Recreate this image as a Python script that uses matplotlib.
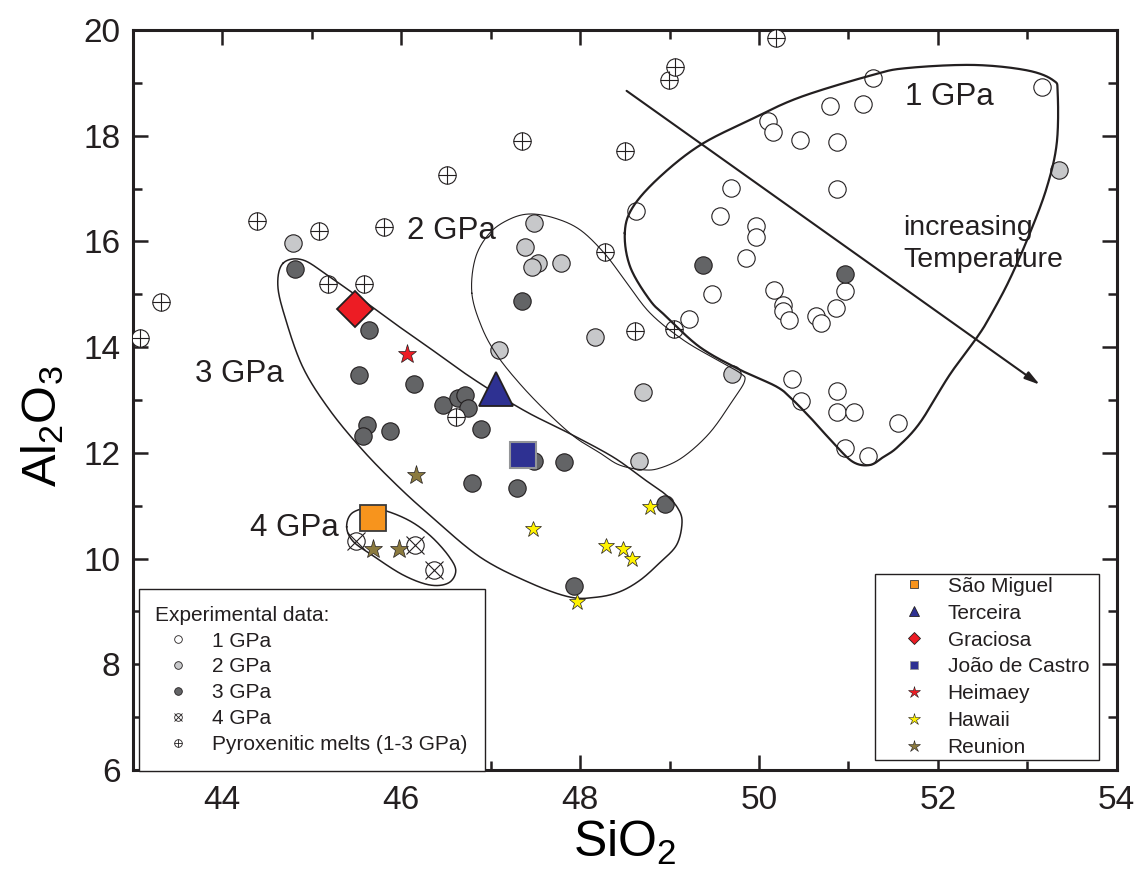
import numpy as np
import matplotlib
matplotlib.use("Agg")
import matplotlib.pyplot as plt
from matplotlib import font_manager
from matplotlib.lines import Line2D
from matplotlib.patches import Rectangle

# --- DATA (wt%) ---
# experimental melts, 1 GPa
gpa1_sio2 = [51.27, 50.79, 51.16, 53.16, 50.10, 50.16, 50.46, 50.87, 50.87, 49.69, 48.62,
             49.57, 49.97, 49.97, 49.86, 49.48, 49.22, 50.17, 50.27, 50.27, 50.34, 50.64,
             50.69, 50.86, 50.96, 50.37, 50.47, 50.87, 50.87, 51.06, 51.55, 50.96, 51.22]
gpa1_al2o3 = [19.09, 18.56, 18.60, 18.92, 18.28, 18.07, 17.92, 17.88, 16.99, 17.01, 16.58,
              16.48, 16.29, 16.08, 15.69, 15.01, 14.53, 15.08, 14.80, 14.68, 14.51, 14.59,
              14.46, 14.74, 15.06, 13.40, 12.98, 13.17, 12.77, 12.77, 12.57, 12.09, 11.94]
# 2 GPa
gpa2_sio2 = [44.79, 47.48, 47.38, 47.53, 47.46, 47.79, 47.09, 48.17, 48.70, 48.66, 49.70, 53.35]
gpa2_al2o3 = [15.97, 16.35, 15.89, 15.59, 15.52, 15.59, 13.95, 14.19, 13.15, 11.85, 13.49, 17.35]
# 3 GPa
gpa3_sio2 = [44.81, 45.64, 45.53, 46.14, 45.62, 45.57, 45.87, 46.47, 46.63, 46.71, 46.75,
             46.89, 46.79, 47.29, 47.48, 47.82, 47.35, 48.95, 47.93, 49.37, 50.96]
gpa3_al2o3 = [15.48, 14.32, 13.47, 13.30, 12.53, 12.32, 12.41, 12.91, 13.04, 13.09, 12.85,
              12.45, 11.43, 11.34, 11.85, 11.83, 14.87, 11.03, 9.48, 15.55, 15.38]
# 4 GPa
gpa4_sio2 = [45.50, 46.15, 46.37]
gpa4_al2o3 = [10.33, 10.26, 9.78]
# pyroxenitic melts (1-3 GPa)
pyx_sio2 = [43.08, 43.31, 44.39, 45.08, 45.18, 45.58, 45.81, 46.51, 47.35, 48.50, 48.28,
            48.61, 49.05, 48.99, 49.06, 50.19, 46.61]
pyx_al2o3 = [14.17, 14.85, 16.39, 16.20, 15.19, 15.19, 16.27, 17.26, 17.90, 17.71, 15.80,
             14.31, 14.34, 19.05, 19.30, 19.85, 12.68]

# natural samples
sao_miguel = (45.68, 10.77)
terceira = (47.06, 13.21)
graciosa = (45.48, 14.72)
joao_de_castro = (47.36, 11.96)
heimaey = (46.06, 13.87)
hawaii_sio2 = [47.47, 48.29, 48.48, 48.58, 48.78, 47.97]
hawaii_al2o3 = [10.56, 10.24, 10.18, 9.99, 10.98, 9.18]
reunion_sio2 = [46.17, 45.68, 45.97]
reunion_al2o3 = [11.58, 10.18, 10.18]

# pressure fields (outline vertices)
field1_sio2 = [48.50, 48.59, 48.89, 49.34, 49.90, 50.46, 51.27, 51.65, 52.39, 52.99, 53.29,
               53.34, 53.33, 53.22, 53.03, 52.80, 52.58, 52.44, 52.13, 51.80, 51.55, 51.39,
               51.24, 51.05, 50.83, 50.60, 50.38, 50.20, 49.79, 49.34, 48.97, 48.78, 48.56]
field1_al2o3 = [16.16, 16.65, 17.22, 17.82, 18.30, 18.73, 19.15, 19.28, 19.34, 19.24, 19.05,
                18.81, 17.86, 17.03, 16.16, 15.27, 14.57, 14.19, 13.47, 12.57, 12.11, 11.92,
                11.77, 11.83, 12.19, 12.62, 13.00, 13.25, 13.57, 14.00, 14.57, 14.89, 15.52]
field2_sio2 = [46.79, 46.83, 46.99, 47.21, 47.44, 47.72, 48.00, 48.27, 48.50, 48.78, 49.15,
               49.53, 49.79, 49.84, 49.71, 49.45, 49.15, 48.89, 48.70, 48.44, 48.22, 47.94,
               47.63, 47.33, 47.07, 46.90]
field2_al2o3 = [15.02, 15.69, 16.16, 16.42, 16.52, 16.44, 16.22, 15.78, 15.27, 14.65, 14.14,
                13.76, 13.51, 13.36, 13.00, 12.38, 11.92, 11.71, 11.68, 11.77, 12.00, 12.30,
                12.77, 13.30, 13.85, 14.38]
field3_sio2 = [44.68, 44.90, 45.20, 45.57, 45.95, 46.32, 46.69, 47.07, 47.44, 47.89, 48.37,
               48.70, 48.95, 49.09, 49.14, 49.08, 48.89, 48.67, 48.44, 48.19, 47.89, 47.44,
               46.88, 46.32, 45.95, 45.57, 45.20, 44.90, 44.70, 44.62]
field3_al2o3 = [15.59, 15.65, 15.33, 14.89, 14.42, 13.98, 13.53, 13.11, 12.74, 12.36, 11.92,
                11.52, 11.22, 10.96, 10.69, 10.26, 9.92, 9.59, 9.37, 9.27, 9.27, 9.54,
                10.03, 10.82, 11.39, 12.05, 12.81, 13.62, 14.57, 15.18]
field4_sio2 = [45.39, 45.45, 45.65, 45.87, 46.12, 46.34, 46.53, 46.61, 46.53, 46.32, 46.02,
               45.67, 45.46]
field4_al2o3 = [10.60, 10.86, 10.96, 10.88, 10.69, 10.41, 10.05, 9.77, 9.54, 9.50, 9.69,
                10.07, 10.33]

# temperature arrow (start, end)
arrow_start = (48.52, 18.85)
arrow_end = (53.14, 13.29)

INK = '#231f20'
C_2GPA = '#c7c8ca'
C_3GPA = '#636466'

# --- FONTS ---
names = {f.name for f in font_manager.fontManager.ttflist}
label_font = 'Liberation Sans Narrow' if 'Liberation Sans Narrow' in names else 'Liberation Sans'
plt.rcParams['font.family'] = ['Liberation Sans', 'DejaVu Sans']
plt.rcParams['mathtext.fontset'] = 'custom'
plt.rcParams['mathtext.rm'] = label_font
plt.rcParams['mathtext.it'] = label_font
plt.rcParams['text.color'] = INK


def closed_curve(xs, ys, n=30):
    """Smooth closed outline (periodic Catmull-Rom) through the given vertices."""
    p = np.column_stack([xs, ys])
    m = len(p)
    t = np.linspace(0, 1, n, endpoint=False)[:, None]
    segs = []
    for i in range(m):
        p0, p1, p2, p3 = p[i - 1], p[i], p[(i + 1) % m], p[(i + 2) % m]
        segs.append(0.5 * (2 * p1 + (-p0 + p2) * t + (2 * p0 - 5 * p1 + 4 * p2 - p3) * t ** 2
                           + (-p0 + 3 * p1 - 3 * p2 + p3) * t ** 3))
    segs.append(segs[0][:1])
    out = np.vstack(segs)
    return out[:, 0], out[:, 1]


# --- PLOT ---
fig = plt.figure(figsize=(11.36, 8.84), dpi=100)
ax = fig.add_axes([0.117, 0.129, 0.866, 0.837])

circ = dict(ls='none', marker='o', ms=12.5, mew=0.8, mec=INK)
ax.plot(gpa1_sio2, gpa1_al2o3, mfc='white', zorder=3, **circ)
ax.plot(gpa2_sio2, gpa2_al2o3, mfc=C_2GPA, zorder=3, **circ)
ax.plot(gpa3_sio2, gpa3_al2o3, mfc=C_3GPA, zorder=3, **circ)
ax.plot(gpa4_sio2, gpa4_al2o3, mfc='white', zorder=3, **circ)
ax.plot(gpa4_sio2, gpa4_al2o3, ls='none', marker='x', ms=12.5, mew=0.8, mec=INK, zorder=3)
ax.plot(pyx_sio2, pyx_al2o3, mfc='white', zorder=3, **circ)
ax.plot(pyx_sio2, pyx_al2o3, ls='none', marker='+', ms=12.5, mew=0.8, mec=INK, zorder=3)

# pressure fields
for fx, fy, lw in [(field1_sio2, field1_al2o3, 1.6), (field2_sio2, field2_al2o3, 0.8),
                   (field3_sio2, field3_al2o3, 1.1), (field4_sio2, field4_al2o3, 1.1)]:
    cx, cy = closed_curve(fx, fy)
    ax.plot(cx, cy, color=INK, lw=lw, zorder=4)

# natural samples
ax.plot(*sao_miguel, ls='none', marker='s', ms=18.5, mfc='#f7941d', mec='#3a3a3a', mew=1.3, zorder=5)
ax.plot(*terceira, ls='none', marker='^', ms=24, mfc='#2e3192', mec=INK, mew=1.3, zorder=5)
ax.plot(*graciosa, ls='none', marker='D', ms=18.5, mfc='#ed1c24', mec=INK, mew=1.3, zorder=5)
ax.plot(*joao_de_castro, ls='none', marker='s', ms=18.5, mfc='#2e3192', mec='#939598', mew=1.5, zorder=5)
ax.plot(*heimaey, ls='none', marker='*', ms=14, mfc='#ed1c24', mec=INK, mew=0.5, zorder=5)
ax.plot(hawaii_sio2, hawaii_al2o3, ls='none', marker='*', ms=12, mfc='#fff200', mec=INK, mew=0.5, zorder=5)
ax.plot(reunion_sio2, reunion_al2o3, ls='none', marker='*', ms=14, mfc='#8b7a3e', mec=INK, mew=0.5, zorder=5)

# increasing temperature arrow
ax.annotate('', xy=arrow_end, xytext=arrow_start,
            arrowprops=dict(arrowstyle='-|>,head_length=0.9,head_width=0.25', lw=1.5,
                            color=INK, shrinkA=0, shrinkB=0), zorder=4)

# field labels
lab = dict(fontsize=22.5, va='baseline', ha='left')
ax.text(51.63, 18.58, '1 GPa', **lab)
ax.text(46.06, 16.05, '2 GPa', **lab)
ax.text(43.69, 13.34, '3 GPa', **lab)
ax.text(44.31, 10.43, '4 GPa', **lab)
ax.text(51.61, 16.12, 'increasing', fontsize=20.5, va='baseline', ha='left')
ax.text(51.61, 15.52, 'Temperature', fontsize=20.5, va='baseline', ha='left')

# axes
ax.set_xlim(43, 54)
ax.set_ylim(6, 20)
ax.set_xticks(np.arange(44, 55, 2))
ax.set_xticks(np.arange(43, 55, 1), minor=True)
ax.set_yticks(np.arange(6, 21, 2))
ax.set_yticks(np.arange(6, 21, 1), minor=True)
ax.tick_params(which='both', direction='in', top=True, right=True, width=1.8, color=INK,
               labelsize=24, labelcolor=INK)
ax.tick_params(which='major', length=11)
ax.tick_params(which='minor', length=6.5)
ax.tick_params(axis='x', pad=11)
ax.tick_params(axis='y', pad=9)
for s in ax.spines.values():
    s.set_linewidth(2.2)
    s.set_color(INK)

ax.set_xlabel(r'$\mathrm{SiO_2}$', fontsize=36)
ax.set_ylabel(r'$\mathrm{Al_2O_3}$', fontsize=35)
ax.xaxis.set_label_coords(0.5, -0.066)
ax.yaxis.set_label_coords(-0.068, 0.465)

# legends
exp_handles = [
    Line2D([], [], ls='none', marker='o', ms=5.5, mfc='white', mec=INK, mew=0.6),
    Line2D([], [], ls='none', marker='o', ms=5.5, mfc=C_2GPA, mec=INK, mew=0.6),
    Line2D([], [], ls='none', marker='o', ms=5.5, mfc=C_3GPA, mec=INK, mew=0.6),
    (Line2D([], [], ls='none', marker='o', ms=5.5, mfc='white', mec=INK, mew=0.6),
     Line2D([], [], ls='none', marker='x', ms=5.5, mec=INK, mew=0.6)),
    (Line2D([], [], ls='none', marker='o', ms=5.5, mfc='white', mec=INK, mew=0.6),
     Line2D([], [], ls='none', marker='+', ms=5.5, mec=INK, mew=0.6)),
]
exp_labels = ['1 GPa', '2 GPa', '3 GPa', '4 GPa', 'Pyroxenitic melts (1-3 GPa)']
leg_kw = dict(fontsize=15, fancybox=False, edgecolor=INK, framealpha=1, borderpad=0.8,
              handlelength=2.2, handletextpad=0.5, borderaxespad=0)
leg1 = ax.legend(exp_handles, exp_labels, title='Experimental data:', title_fontsize=15,
                 alignment='left', loc='lower left', mode='expand', labelspacing=0.33,
                 bbox_to_anchor=(0.006, -0.001, 0.352, 0.245), **leg_kw)
leg1.get_frame().set_linewidth(1.0)
ax.add_artist(leg1)

site_handles = [
    Line2D([], [], ls='none', marker='s', ms=6, mfc='#f7941d', mec='#3a3a3a', mew=0.6),
    Line2D([], [], ls='none', marker='^', ms=7.5, mfc='#2e3192', mec=INK, mew=0.6),
    Line2D([], [], ls='none', marker='D', ms=6.5, mfc='#ed1c24', mec=INK, mew=0.6),
    Line2D([], [], ls='none', marker='s', ms=6, mfc='#2e3192', mec='#939598', mew=0.6),
    Line2D([], [], ls='none', marker='*', ms=9, mfc='#ed1c24', mec=INK, mew=0.4),
    Line2D([], [], ls='none', marker='*', ms=9, mfc='#fff200', mec=INK, mew=0.4),
    Line2D([], [], ls='none', marker='*', ms=9, mfc='#8b7a3e', mec=INK, mew=0.4),
]
site_labels = ['São Miguel', 'Terceira', 'Graciosa', 'João de Castro', 'Heimaey', 'Hawaii', 'Reunion']
site_box = (0.754, 0.0135, 0.228, 0.2514)
leg2 = ax.legend(site_handles, site_labels, loc='center left', frameon=False, labelspacing=0.38,
                 bbox_to_anchor=site_box, **leg_kw)
ax.add_patch(Rectangle(site_box[:2], site_box[2], site_box[3], transform=ax.transAxes,
                       facecolor='white', edgecolor=INK, lw=1.0, zorder=6))
leg2.set_zorder(7)

fig.savefig('out.png', dpi=100)
